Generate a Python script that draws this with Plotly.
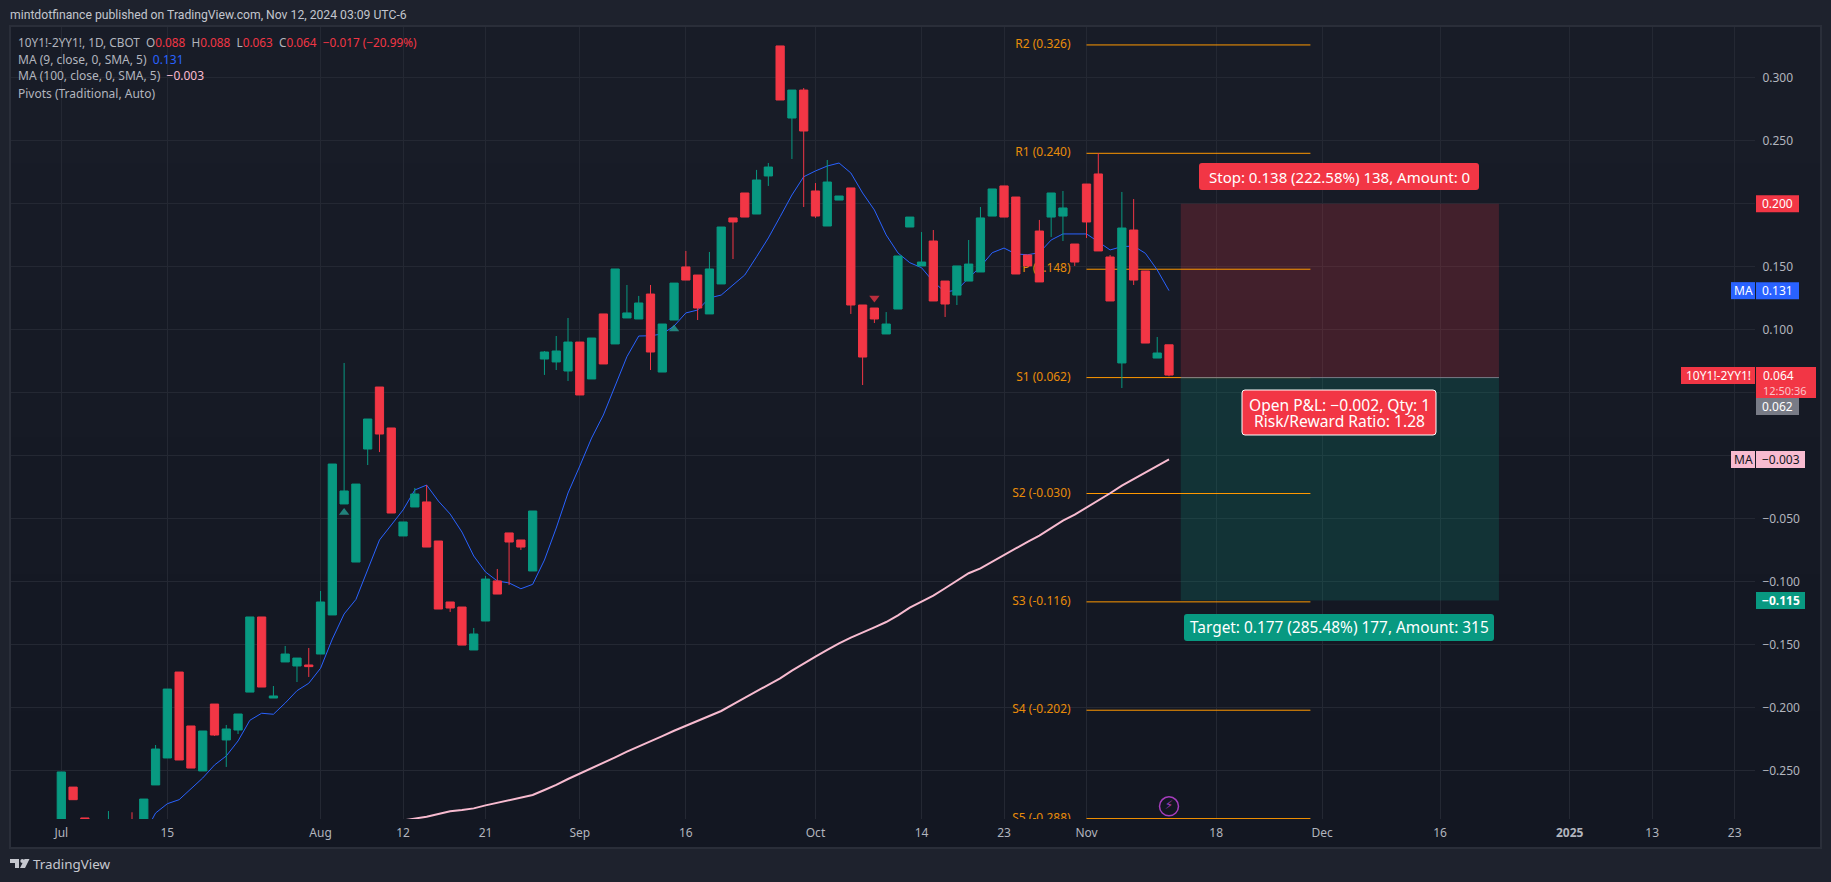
import pandas as pd
import plotly.graph_objects as go

# ---------- data ----------
opens = [-0.31,-0.263,-0.2875,-0.33,-0.32,-0.33,-0.30,-0.31,-0.2613,-0.2399,
 -0.1717,-0.2145,-0.2502,-0.1971,-0.2256,-0.2177,-0.1876,-0.1280,-0.1923,-0.1637,
 -0.1669,-0.1661,-0.1574,-0.1264,-0.0383,-0.0844,0.0053,0.0545,0.0220,-0.0637,
 -0.0407,-0.0367,-0.0677,-0.1161,-0.1201,-0.1542,-0.1312,-0.0994,-0.0613,-0.0669,
 -0.0915,0.0767,0.0744,0.0672,0.0902,0.0609,0.1125,0.0887,0.1093,0.1085,
 0.1283,0.0664,0.1077,0.1498,0.1434,0.1125,0.1363,0.1887,0.2085,0.1918,
 0.2220,0.3252,0.2680,0.2902,0.2101,0.1823,0.2029,0.2125,0.1196,0.1172,
 0.0966,0.1164,0.1815,0.1506,0.1704,0.1386,0.1275,0.1386,0.1458,0.1902,
 0.2141,0.2053,0.1593,0.1783,0.1894,0.1902,0.1680,0.2156,0.2236,0.1577,
 0.0736,0.1791,0.1466,0.0775,0.088]
highs = [-0.251,-0.263,-0.2875,-0.33,-0.282,-0.32,-0.283,-0.2725,-0.2296,-0.1852,
 -0.1717,-0.2145,-0.2185,-0.1971,-0.2137,-0.2050,-0.1280,-0.1280,-0.1828,-0.1510,
 -0.1606,-0.1526,-0.1074,-0.0066,0.0736,-0.0225,0.0291,0.0545,0.0220,-0.0526,
 -0.0256,-0.0233,-0.0677,-0.1161,-0.1201,-0.1367,-0.0955,-0.0899,-0.0613,-0.0669,
 -0.0439,0.0831,0.0950,0.1093,0.0902,0.0934,0.1125,0.1482,0.1355,0.1268,
 0.1355,0.1045,0.1370,0.1625,0.1434,0.1617,0.1815,0.1887,0.2085,0.2268,
 0.2323,0.3252,0.2902,0.2918,0.2164,0.2347,0.2061,0.2125,0.1196,0.1172,
 0.1140,0.1585,0.1894,0.1775,0.1791,0.1386,0.1506,0.1712,0.1974,0.2117,
 0.2141,0.2053,0.1593,0.1871,0.2085,0.2101,0.1680,0.2156,0.2402,0.1593,
 0.2093,0.2037,0.1466,0.0942,0.088]
lows = [-0.34,-0.273,-0.31,-0.34,-0.33,-0.34,-0.33,-0.32,-0.2613,-0.2399,
 -0.2415,-0.2479,-0.2502,-0.2224,-0.2470,-0.2209,-0.1876,-0.1836,-0.1923,-0.1637,
 -0.1796,-0.1756,-0.1574,-0.1264,-0.0383,-0.0844,-0.0074,0.0029,-0.0455,-0.0637,
 -0.0407,-0.0725,-0.1217,-0.1240,-0.1503,-0.1542,-0.1312,-0.1098,-0.1026,-0.0748,
 -0.0915,0.0641,0.0680,0.0593,0.0482,0.0609,0.0728,0.0887,0.1093,0.1085,
 0.0680,0.0664,0.1077,0.1394,0.1077,0.1125,0.1363,0.1561,0.1894,0.1918,
 0.2141,0.2823,0.2355,0.1974,0.1887,0.1823,0.2029,0.1125,0.0561,0.1053,
 0.0966,0.1164,0.1815,0.1506,0.1228,0.1101,0.1196,0.1386,0.1458,0.1902,
 0.1894,0.1442,0.1506,0.1379,0.1736,0.1704,0.1506,0.1728,0.1625,0.1228,
 0.0537,0.1355,0.0894,0.0775,0.063]
closes = [-0.251,-0.273,-0.30,-0.34,-0.30,-0.32,-0.32,-0.2725,-0.2328,-0.1852,
 -0.2415,-0.2479,-0.2185,-0.2217,-0.2169,-0.2050,-0.1280,-0.1836,-0.1907,-0.1574,
 -0.1606,-0.1674,-0.1161,-0.0066,-0.0280,-0.0225,0.0291,0.0172,-0.0455,-0.0526,
 -0.0304,-0.0725,-0.1217,-0.1209,-0.1503,-0.1415,-0.0979,-0.1098,-0.0685,-0.0725,
 -0.0439,0.0823,0.0831,0.0902,0.0482,0.0934,0.0728,0.1482,0.1133,0.1212,
 0.0823,0.1045,0.1370,0.1394,0.1172,0.1482,0.1815,0.1855,0.1894,0.2188,
 0.2291,0.2823,0.2902,0.2577,0.1902,0.2172,0.2061,0.1196,0.0783,0.1085,
 0.1045,0.1585,0.1894,0.1537,0.1228,0.1204,0.1506,0.1521,0.1887,0.2117,
 0.1894,0.1442,0.1506,0.1379,0.2085,0.1966,0.1537,0.1855,0.1625,0.1228,
 0.1807,0.1394,0.0894,0.0815,0.064]

ma9_start = 6
ma9 = [-0.315,-0.301,-0.2836,-0.2762,-0.2730,-0.2645,-0.2558,-0.2455,-0.2383,-0.2264,
 -0.2100,-0.2044,-0.2052,-0.1963,-0.1865,-0.1806,-0.1687,-0.1455,-0.1256,-0.1141,
 -0.0899,-0.0669,-0.0550,-0.0431,-0.0272,-0.0233,-0.0360,-0.0463,-0.0606,-0.0796,
 -0.0923,-0.0994,-0.1010,-0.1056,-0.1021,-0.0828,-0.0574,-0.0296,-0.0082,0.0140,
 0.0323,0.0548,0.0786,0.0950,0.0952,0.0966,0.1029,0.1133,0.1156,0.1252,
 0.1275,0.1355,0.1434,0.1579,0.1728,0.1897,0.2069,0.2214,0.2260,0.2299,
 0.2323,0.2244,0.2085,0.1950,0.1752,0.1609,0.1532,0.1492,0.1381,0.1299,
 0.1315,0.1410,0.1500,0.1611,0.1648,0.1601,0.1595,0.1611,0.1712,0.1760,
 0.1762,0.1760,0.1698,0.1633,0.1659,0.1664,0.1606,0.1474,0.131]

ma100_start = 29
ma100 = [-0.2895,-0.288,-0.2865,-0.2844,-0.2822,-0.2812,-0.2799,-0.2775,-0.2754,-0.2733,
 -0.2711,-0.2693,-0.2653,-0.2613,-0.2566,-0.2524,-0.2481,-0.2439,-0.2394,-0.2349,
 -0.2309,-0.2270,-0.2225,-0.2183,-0.2145,-0.2103,-0.2066,-0.2026,-0.1973,-0.1921,
 -0.1870,-0.1820,-0.1767,-0.1706,-0.1648,-0.1595,-0.1542,-0.1489,-0.1444,-0.1405,
 -0.1362,-0.1320,-0.1267,-0.1206,-0.1156,-0.1111,-0.1052,-0.0989,-0.0933,-0.0894,
 -0.0841,-0.0783,-0.0735,-0.0683,-0.0635,-0.0576,-0.0516,-0.0468,-0.0413,-0.0357,
 -0.0298,-0.0238,-0.0185,-0.0135,-0.0082,-0.003]

pivot_names = ["R2","R1","P","S1","S2","S3","S4","S5"]
pivot_values = [0.326,0.240,0.148,0.062,-0.030,-0.116,-0.202,-0.288]
pivot_start, pivot_end = "2024-11-01", "2024-11-29"

entry, stop, target = 0.062, 0.200, -0.115
pos_start, pos_end = "2024-11-13", "2024-12-23"

up_marks = [("2024-08-05",-0.0450),("2024-09-13",0.1005)]
down_marks = [("2024-10-08",0.1251)]
bolt = ("2024-11-12",-0.2783)

x_ticks = [("2024-07-01","Jul"),("2024-07-15","15"),("2024-08-01","Aug"),("2024-08-12","12"),
 ("2024-08-21","21"),("2024-09-03","Sep"),("2024-09-16","16"),("2024-10-01","Oct"),
 ("2024-10-14","14"),("2024-10-23","23"),("2024-11-01","Nov"),("2024-11-18","18"),
 ("2024-12-02","Dec"),("2024-12-16","16"),("2025-01-02","<b>2025</b>"),("2025-01-13","13"),("2025-01-23","23")]
y_ticks = [0.30,0.25,0.20,0.15,0.10,0.05,0.0,-0.05,-0.10,-0.15,-0.20,-0.25]
y_hidden_labels = [0.20,0.05,0.0]     # covered by price tags in the reference

holidays = ["2024-07-04","2024-09-02","2024-11-28","2024-12-25","2025-01-01","2025-01-20"]
days = [d for d in pd.bdate_range("2024-07-01","2025-02-28").strftime("%Y-%m-%d") if d not in holidays]
ix = {d:i for i,d in enumerate(days)}

# ---------- look ----------
W, H = 1831, 882
L, R, T, B = 11, 1755, 27, 819        # plot box, px
PANEL_R, PANEL_B = 1820, 847
FONT = "Noto Sans"
GREEN, RED, BLUE, PINK, ORANGE = "#089981", "#f23645", "#2962ff", "#f8bbd0", "#ff9800"
TXT = "#b2b5be"
GRID = "#242833"
BAR_W = (1169.0-61.3)/94          # px per trading day
x_range = [(L-61.3)/BAR_W, (R-61.3)/BAR_W]
y_px = lambda v: 455.7-1260*v
y_range = [(455.7-B)/1260, (455.7-T)/1260]
px = lambda x: x/W
py = lambda y: 1-y/H

fig = go.Figure()

# primary subplot: under the candles
lx, ly = [], []
for v in pivot_values:
    lx += [ix[pivot_start], ix[pivot_end], None]
    ly += [v, v, None]
fig.add_trace(go.Scatter(x=lx, y=ly, mode="lines", line=dict(color=ORANGE, width=1), cliponaxis=False, hoverinfo="skip"))
fig.add_trace(go.Scatter(x=[ix[pivot_start]-1.35]*len(pivot_values), y=pivot_values, mode="text",
    text=[f"{n} ({v:.3f})" for n,v in zip(pivot_names,pivot_values)], textposition="middle left",
    textfont=dict(family=FONT, size=12, color="#e88c0a"), hoverinfo="skip"))
fig.add_trace(go.Scatter(x=list(range(ma9_start, ma9_start+len(ma9))), y=ma9, mode="lines", line=dict(color=BLUE, width=1)))
fig.add_trace(go.Scatter(x=list(range(ma100_start, ma100_start+len(ma100))), y=ma100, mode="lines", line=dict(color=PINK, width=2)))
fig.add_trace(go.Scatter(x=[ix[pos_start], ix[pos_end]], y=[entry, entry], mode="lines", line=dict(color="#787b86", width=1), hoverinfo="skip"))

# overlay subplot: candles and marks
fig.add_trace(go.Candlestick(x=list(range(len(opens))), open=opens, high=highs, low=lows, close=closes,
    increasing=dict(line=dict(color=GREEN, width=1), fillcolor=GREEN),
    decreasing=dict(line=dict(color=RED, width=1), fillcolor=RED),
    whiskerwidth=0, xaxis="x2", yaxis="y2"))
fig.add_trace(go.Scatter(x=[ix[d] for d,_ in up_marks], y=[v for _,v in up_marks], mode="markers",
    marker=dict(symbol="triangle-up", size=9, color="rgba(38,166,154,0.75)", line=dict(width=0)), xaxis="x2", yaxis="y2"))
fig.add_trace(go.Scatter(x=[ix[d] for d,_ in down_marks], y=[v for _,v in down_marks], mode="markers",
    marker=dict(symbol="triangle-down", size=9, color="rgba(242,54,69,0.75)", line=dict(width=0)), xaxis="x2", yaxis="y2"))
fig.add_trace(go.Scatter(x=[ix[bolt[0]]], y=[bolt[1]], mode="markers+text", text=["⚡"], textposition="middle center",
    textfont=dict(family="DejaVu Sans", size=12, color="#a63dbd"),
    marker=dict(symbol="circle-open", size=19, color="#a63dbd", line=dict(width=1.5, color="#a63dbd")), xaxis="x2", yaxis="y2"))

# backgrounds and frames
shapes = []
bands = [(24,28,39),(23,27,38),(22,26,37),(21,25,36),(20,24,35),(19,23,34)]
for k, c in enumerate(bands):
    y0 = T + (PANEL_B-T)*k/len(bands)
    y1 = T + (PANEL_B-T)*(k+1)/len(bands)
    shapes.append(dict(type="rect", xref="paper", yref="paper", x0=px(L), x1=px(PANEL_R), y0=py(y0), y1=py(y1),
                       fillcolor=f"rgb{c}", line=dict(width=0), layer="below"))
shapes.append(dict(type="rect", xref="paper", yref="paper", x0=px(L-1), x1=px(PANEL_R+1), y0=py(T-1), y1=py(PANEL_B+1),
                   fillcolor="rgba(0,0,0,0)", line=dict(width=2, color="#2a2e39"), layer="below"))
# long position zones
shapes.append(dict(type="rect", x0=ix[pos_start], x1=ix[pos_end], y0=entry, y1=stop, xref="x", yref="y",
                   fillcolor="rgba(242,54,69,0.2)", line=dict(width=0), layer="between"))
shapes.append(dict(type="rect", x0=ix[pos_start], x1=ix[pos_end], y0=target, y1=entry, xref="x", yref="y",
                   fillcolor="rgba(8,153,129,0.2)", line=dict(width=0), layer="between"))

def round_box(x0, y0, x1, y1, fill, border=None, r=3):
    p = (f"M{px(x0+r)},{py(y0)} L{px(x1-r)},{py(y0)} Q{px(x1)},{py(y0)} {px(x1)},{py(y0+r)} "
         f"L{px(x1)},{py(y1-r)} Q{px(x1)},{py(y1)} {px(x1-r)},{py(y1)} L{px(x0+r)},{py(y1)} "
         f"Q{px(x0)},{py(y1)} {px(x0)},{py(y1-r)} L{px(x0)},{py(y0+r)} Q{px(x0)},{py(y0)} {px(x0+r)},{py(y0)} Z")
    shapes.append(dict(type="path", xref="paper", yref="paper", path=p, fillcolor=fill,
                       line=dict(width=1 if border else 0, color=border or fill)))

anns = []
def text(x, y, s, size=12, color=TXT, anchor="left", family=FONT):
    anns.append(dict(x=px(x), y=py(y), xref="paper", yref="paper", text=s, showarrow=False, xanchor=anchor, yanchor="middle",
                     font=dict(family=family, size=size, color=color), align="center", borderpad=0, borderwidth=0))

def tag(x0, x1, y0, y1, s, bg, fg="#ffffff", size=12):
    shapes.append(dict(type="rect", xref="paper", yref="paper", x0=px(x0), x1=px(x1), y0=py(y0), y1=py(y1),
                       fillcolor=bg, line=dict(width=0)))
    text((x0+x1)/2, (y0+y1)/2, s, size=size, color=fg, anchor="center")

# header and legend
text(10, 15, "mintdotfinance published on TradingView.com, Nov 12, 2024 03:09 UTC-6", size=12.2, color="#c3c6ce", family="Roboto")
r = lambda s: f'<span style="color:{RED}">{s}</span>'
text(18, 42, "10Y1!-2YY1!, 1D, CBOT  O"+r("0.088")+"  H"+r("0.088")+"  L"+r("0.063")+"  C"+r("0.064")+"  "+r("−0.017 (−20.99%)"), size=11.8)
text(18, 59, f'MA (9, close, 0, SMA, 5)  <span style="color:{BLUE}">0.131</span>')
text(18, 76, f'MA (100, close, 0, SMA, 5)  <span style="color:{PINK}">−0.003</span>')
text(18, 93, "Pivots (Traditional, Auto)")

# position labels
round_box(1199, 163, 1479, 190, RED)
text(1339, 176.5, "Stop: 0.138 (222.58%) 138, Amount: 0", size=15, color="#fff", anchor="center")
round_box(1242, 390, 1436, 435, RED, border="#ffffff")
text(1339, 404.5, "Open P&amp;L: −0.002, Qty: 1", size=15.6, color="#fff", anchor="center")
text(1339, 421, "Risk/Reward Ratio: 1.28", size=15.6, color="#fff", anchor="center")
round_box(1184, 614, 1494, 641, GREEN)
text(1339, 627.5, "Target: 0.177 (285.48%) 177, Amount: 315", size=15.4, color="#fff", anchor="center")

# price scale tags
tag(1756, 1799, y_px(0.2)-8.5, y_px(0.2)+8.5, "0.200", RED)
tag(1731, 1755, y_px(0.131)-8.5, y_px(0.131)+8.5, "MA", BLUE)
tag(1756, 1799, y_px(0.131)-8.5, y_px(0.131)+8.5, "0.131", BLUE)
tag(1681, 1755, 367, 384, "10Y1!-2YY1!", RED)
shapes.append(dict(type="rect", xref="paper", yref="paper", x0=px(1756), x1=px(1816), y0=py(367), y1=py(398), fillcolor=RED, line=dict(width=0)))
text(1763, 375.5, "0.064", color="#fff")
text(1763, 390, "12:50:36", color="#fbc4ca", size=11)
tag(1756, 1799, 398, 415, "0.062", "#787b86")
tag(1731, 1755, y_px(-0.003)-8.5, y_px(-0.003)+8.5, "MA", PINK, fg="#131722")
tag(1756, 1805, y_px(-0.003)-8.5, y_px(-0.003)+8.5, "−0.003", PINK, fg="#131722")
tag(1756, 1805, y_px(-0.115)-8.5, y_px(-0.115)+8.5, "<b>−0.115</b>", GREEN)

# footer logo
logo = (f"M{px(10)},{py(859)} L{px(19)},{py(859)} L{px(19)},{py(868)} L{px(15)},{py(868)} L{px(15)},{py(863)} L{px(10)},{py(863)} Z "
        f"M{px(24.5)},{py(859)} L{px(29.5)},{py(859)} L{px(25)},{py(868)} L{px(20)},{py(868)} Z")
shapes.append(dict(type="path", xref="paper", yref="paper", path=logo, fillcolor="#c6c8cf", line=dict(width=0)))
shapes.append(dict(type="circle", xref="paper", yref="paper", x0=px(20.3), x1=px(24.3), y0=py(859), y1=py(863), fillcolor="#c6c8cf", line=dict(width=0)))
text(33, 864, "TradingView", size=13.4, color="#c6c8cf")

def ylab(v):
    if v in y_hidden_labels:
        return ""
    s = f"{abs(v):.3f}"
    return ("−"+s) if v < 0 else s

axis_common = dict(range=x_range, domain=[px(L), px(R)], fixedrange=True)
fig.update_layout(
    width=W, height=H, autosize=False, margin=dict(l=0, r=0, t=0, b=0),
    paper_bgcolor="#1e222d", plot_bgcolor="rgba(0,0,0,0)", showlegend=False, hovermode=False,
    font=dict(family=FONT, size=12, color=TXT),
    shapes=shapes, annotations=anns, boxgap=0.3, boxgroupgap=0,
    xaxis=dict(**axis_common, tickmode="array", tickvals=[ix[d] for d,_ in x_ticks], ticktext=[t for _,t in x_ticks],
               showgrid=True, gridcolor=GRID, gridwidth=1, zeroline=False, showline=False, rangeslider=dict(visible=False),
               ticks="outside", ticklen=3, tickcolor="rgba(0,0,0,0)", tickfont=dict(family=FONT, size=12, color=TXT)),
    yaxis=dict(range=y_range, domain=[py(B), py(T)], side="right", tickmode="array", tickvals=y_ticks, ticktext=[ylab(v) for v in y_ticks],
               showgrid=True, gridcolor=GRID, gridwidth=1, zeroline=False, showline=False, fixedrange=True,
               ticks="outside", ticklen=4, tickcolor="rgba(0,0,0,0)", tickfont=dict(family=FONT, size=12, color=TXT)),
    xaxis2=dict(range=x_range, overlaying="x", visible=False, fixedrange=True, rangeslider=dict(visible=False), anchor="y2"),
    yaxis2=dict(range=y_range, overlaying="y", visible=False, fixedrange=True, anchor="x2"),
)
fig.write_html("out.html", config=dict(displayModeBar=False), post_script="document.body.style.margin='0';document.body.style.background='#1e222d';")
